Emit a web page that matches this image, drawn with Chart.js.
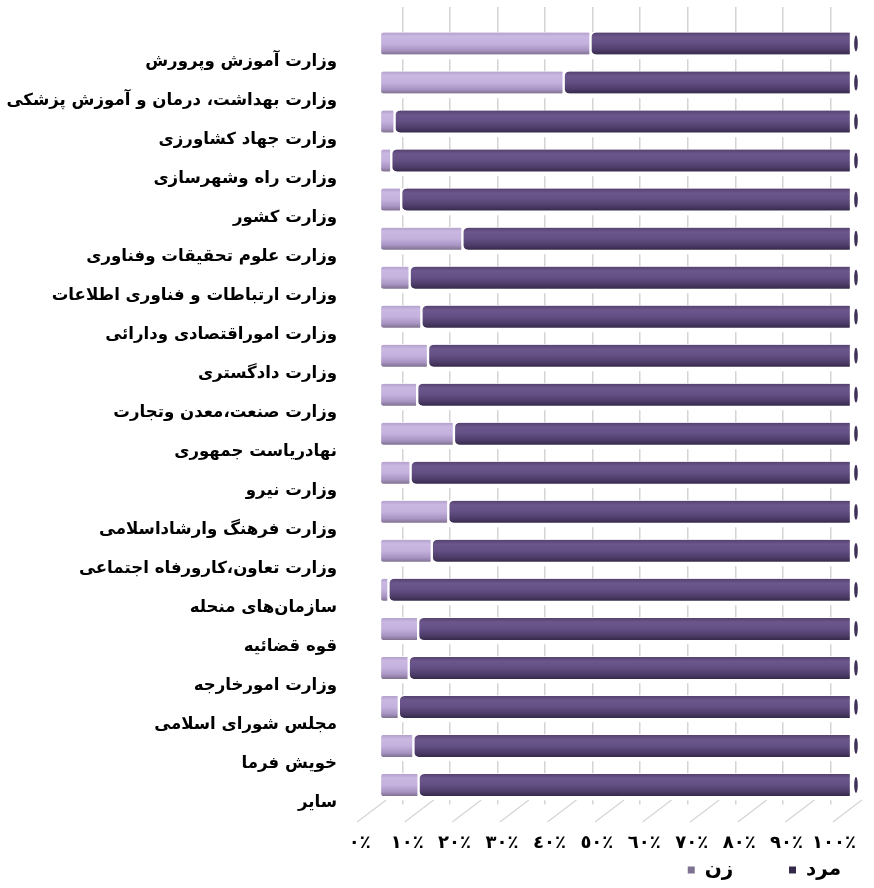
<!DOCTYPE html>
<html><head><meta charset="utf-8">
<script src="https://cdn.jsdelivr.net/npm/chart.js@4.4.0/dist/chart.umd.min.js"></script>
<style>html,body{margin:0;padding:0;background:#fff}#wrap{width:874px;height:888px}</style>
</head><body><div id="wrap"><canvas id="c" width="874" height="888"></canvas></div>
<script>
const categories = [
  'وزارت آموزش وپرورش',
  'وزارت بهداشت، درمان و آموزش پزشکی',
  'وزارت جهاد کشاورزی',
  'وزارت راه وشهرسازی',
  'وزارت کشور',
  'وزارت علوم تحقیقات وفناوری',
  'وزارت ارتباطات و فناوری اطلاعات',
  'وزارت اموراقتصادی ودارائی',
  'وزارت دادگستری',
  'وزارت صنعت،معدن وتجارت',
  'نهادریاست جمهوری',
  'وزارت نیرو',
  'وزارت فرهنگ وارشاداسلامی',
  'وزارت تعاون،کارورفاه اجتماعی',
  'سازمان‌های منحله',
  'قوه قضائیه',
  'وزارت امورخارجه',
  'مجلس شورای اسلامی',
  'خویش فرما',
  'سایر'
];
const womenPct = [44.7, 39.0, 3.1, 2.4, 4.5, 17.5, 6.3, 8.8, 10.2, 7.9, 15.7, 6.5, 14.5, 11.0, 1.8, 8.1, 6.1, 4.0, 7.1, 8.2];
const menPct   = [55.3, 61.0, 96.9, 97.6, 95.5, 82.5, 93.7, 91.2, 89.8, 92.1, 84.3, 93.5, 85.5, 89.0, 98.2, 91.9, 93.9, 96.0, 92.9, 91.8];
const seriesNames = ['زن', 'مرد'];
const tickValues = [0, 10, 20, 30, 40, 50, 60, 70, 80, 90, 100];
const tickLabels = ['٠٪', '١٠٪', '٢٠٪', '٣٠٪', '٤٠٪', '٥٠٪', '٦٠٪', '٧٠٪', '٨٠٪', '٩٠٪', '١٠٠٪'];

const BAR_H = 22;
const FONT = 'DejaVu Sans';
const lightStops = [[0, '#b3a0cc'], [0.18, '#c9b8e1'], [0.5, '#c4b1dd'], [0.8, '#a995c3'], [1, '#7f7190']];
const darkStops  = [[0, '#54416f'], [0.2, '#6c578c'], [0.5, '#634f83'], [0.8, '#4d3c69'], [1, '#362a4b']];
const NBSP = '\u00a0';
const legendTrail = [8, 3];
const LEGEND_TOP = 860;
const LEGEND_H = 30;

function barGradient(ctx, stops, flat) {
  const chart = ctx.chart;
  if (ctx.type !== 'data' || !chart.chartArea || !chart.scales.y) return flat;
  const y = chart.scales.y.getPixelForValue(ctx.dataIndex);
  const g = chart.ctx.createLinearGradient(0, y - BAR_H / 2, 0, y + BAR_H / 2);
  stops.forEach(s => g.addColorStop(s[0], s[1]));
  return g;
}
const gridColor = c => (c.tick && c.tick.value === 0) ? 'rgba(0,0,0,0)' : '#d4d4d4';

const deco = {
  id: 'deco',
  afterLayout(chart) {
    const lg = chart.legend;
    if (lg) { lg.top = LEGEND_TOP; lg.height = LEGEND_H; lg.bottom = LEGEND_TOP + LEGEND_H; }
  },
  beforeDatasetsDraw(chart) {
    const {ctx, chartArea} = chart;
    const xg = chart.scales.xg;
    ctx.save();
    ctx.strokeStyle = '#d4d4d4';
    ctx.lineWidth = 1.2;
    tickValues.forEach(v => {
      const px = xg.getPixelForValue(v);
      ctx.beginPath();
      ctx.moveTo(px + 2.4, chartArea.bottom + 17.5);
      ctx.lineTo(px + 31.4, chartArea.bottom - 4.5);
      ctx.stroke();
    });
    ctx.restore();
  },
  afterDatasetsDraw(chart) {
    const ctx = chart.ctx;
    const meta = chart.getDatasetMeta(1);
    ctx.save();
    ctx.fillStyle = '#3f3158';
    meta.data.forEach(b => {
      ctx.beginPath();
      ctx.ellipse(b.x + 5, b.y, 1.8, BAR_H * 0.36, 0, 0, Math.PI * 2);
      ctx.fill();
    });
    ctx.restore();
  }
};

new Chart(document.getElementById('c'), {
  type: 'bar',
  data: {
    labels: categories,
    datasets: [
      {
        label: seriesNames[0], data: womenPct,
        backgroundColor: c => barGradient(c, lightStops, '#c1afdf'),
        borderColor: '#ffffff', borderWidth: {left: 1.5, right: 1.5, top: 0, bottom: 0},
        borderSkipped: false,
        borderRadius: {topLeft: 4, bottomLeft: 4, topRight: 2, bottomRight: 2},
        barThickness: BAR_H
      },
      {
        label: seriesNames[1], data: menPct,
        backgroundColor: c => barGradient(c, darkStops, '#5e4a82'),
        borderColor: '#ffffff', borderWidth: {left: 1.5, right: 1.5, top: 0, bottom: 0},
        borderSkipped: false,
        borderRadius: {topLeft: 6, bottomLeft: 6, topRight: 2, bottomRight: 2},
        barThickness: BAR_H
      }
    ]
  },
  options: {
    indexAxis: 'y',
    responsive: false,
    animation: false,
    devicePixelRatio: 1,
    layout: {padding: {top: 7, right: 12, bottom: 5.5, left: 0}},
    plugins: {
      tooltip: {enabled: false},
      legend: {
        position: 'bottom', align: 'end', maxHeight: 1,
        labels: {
          boxWidth: 7, boxHeight: 7, padding: 0, color: '#000',
          font: {family: FONT, weight: 'bold', size: 20},
          generateLabels: chart => Chart.defaults.plugins.legend.labels.generateLabels(chart)
            .map((it, i) => Object.assign(it, {text: it.text + NBSP.repeat(legendTrail[i]), strokeStyle: 'rgba(0,0,0,0)', lineWidth: 0}))
        }
      }
    },
    scales: {
      y: {
        type: 'category', stacked: true, position: 'left',
        grid: {display: false, drawTicks: false}, border: {display: false},
        ticks: {font: {family: FONT, weight: 'bold', size: 16.6}, color: '#000', padding: 8, labelOffset: 18, autoSkip: false},
        afterFit: s => { s.width = 345; }
      },
      x: {type: 'linear', stacked: true, min: -7.43, max: 102.34, display: false},
      xg: {
        type: 'linear', position: 'top', min: -2.04, max: 106.62,
        afterBuildTicks: s => { s.ticks = tickValues.map(v => ({value: v})); },
        grid: {color: gridColor, tickColor: gridColor, lineWidth: 1.5, tickWidth: 1.5, drawTicks: true, tickLength: 17},
        border: {display: false, dash: [12, 27], dashOffset: 3.7},
        ticks: {display: false}
      },
      xl: {
        type: 'linear', position: 'bottom', min: -3.10, max: 105.90,
        afterBuildTicks: s => { s.ticks = tickValues.map(v => ({value: v})); },
        grid: {display: false, drawTicks: false}, border: {display: false},
        ticks: {
          callback: v => tickLabels[tickValues.indexOf(v)],
          font: {family: FONT, weight: 'bold', size: 18, lineHeight: '77px'}, color: '#000', padding: 0, maxRotation: 0, autoSkip: false
        }
      }
    }
  },
  plugins: [deco]
});
</script></body></html>
